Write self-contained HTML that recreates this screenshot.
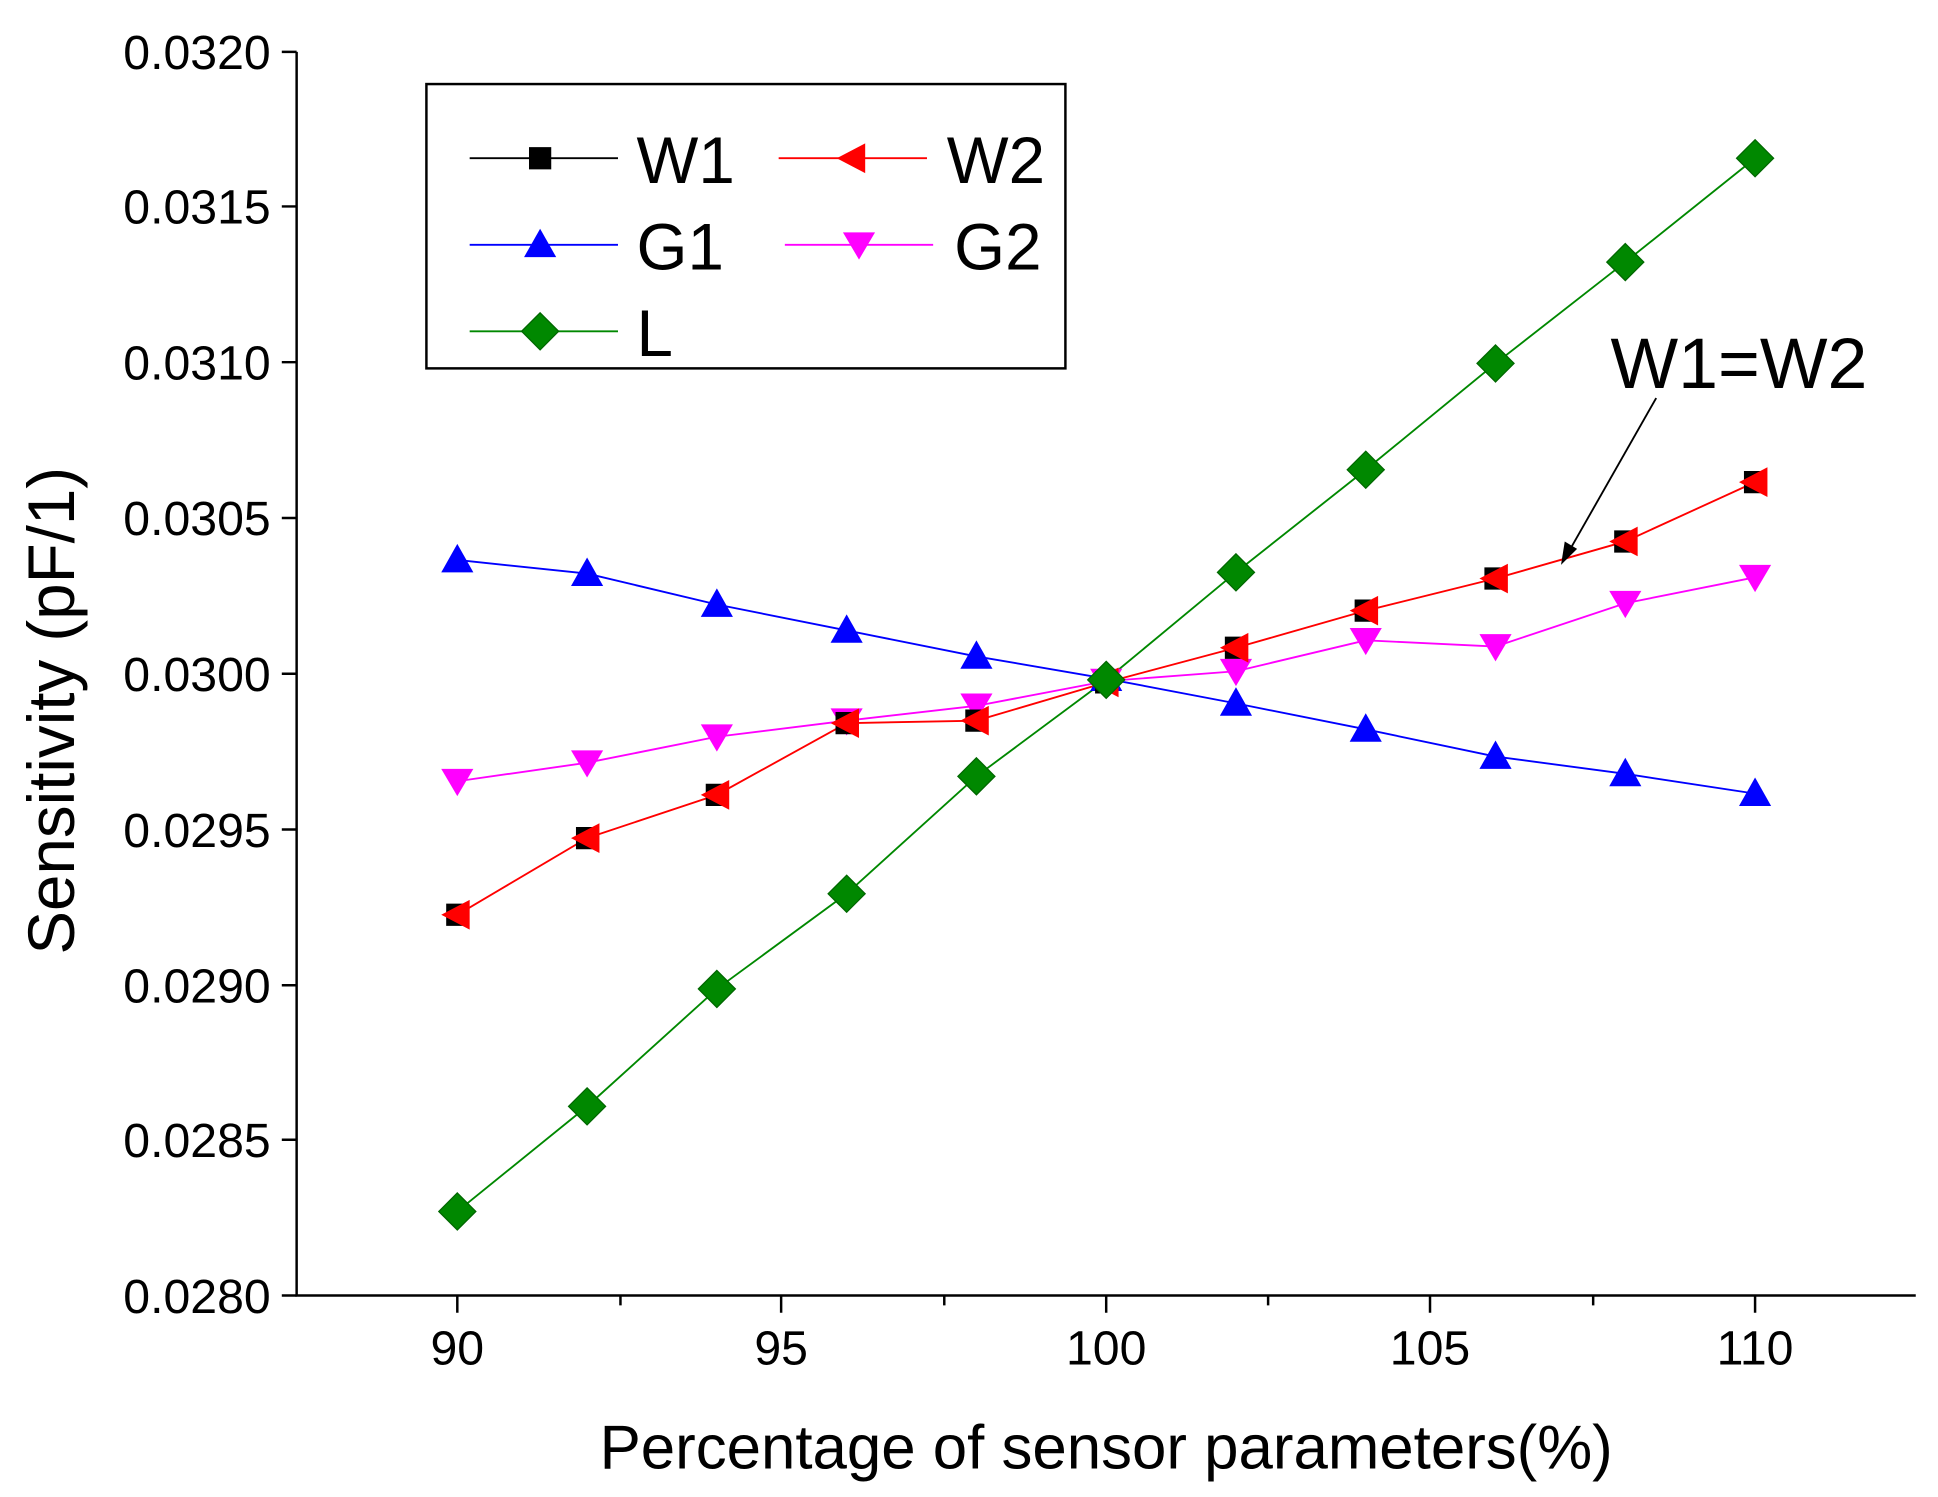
<!DOCTYPE html>
<html><head><style>body{margin:0;background:#fff}svg{display:block}</style></head><body>
<svg width="1938" height="1497" viewBox="0 0 1568 1211" preserveAspectRatio="none" font-family="Liberation Sans, Arial, sans-serif">
<rect width="1568" height="1211" fill="#fff"/>
<g stroke="#000" stroke-width="2" fill="none">
<path d="M240 42 V1048 H1550"/>
<path d="M228 42H240M228 167H240M228 293H240M228 419H240M228 545H240M228 671H240M228 797H240M228 922H240M228 1048H240"/>
<path d="M370 1048v14M632 1048v14M895 1048v14M1157 1048v14M1420 1048v14M502 1048v8M764 1048v8M1026 1048v8M1289 1048v8"/>
</g>
<g font-size="39" text-anchor="end" fill="#000">
<text x="219" y="56">0.0320</text><text x="219" y="181">0.0315</text><text x="219" y="307">0.0310</text><text x="219" y="433">0.0305</text><text x="219" y="559">0.0300</text><text x="219" y="685">0.0295</text><text x="219" y="811">0.0290</text><text x="219" y="936">0.0285</text><text x="219" y="1062">0.0280</text>
</g>
<g font-size="39" text-anchor="middle" fill="#000">
<text x="370" y="1104">90</text><text x="632" y="1104">95</text><text x="895" y="1104">100</text><text x="1157" y="1104">105</text><text x="1420" y="1104">110</text>
</g>
<text x="895" y="1188" font-size="50" text-anchor="middle">Percentage of sensor parameters(%)</text>
<text transform="translate(60 575) rotate(-90)" font-size="53" text-anchor="middle">Sensitivity (pF/1)</text>
<defs>
<path id="sq" d="M-9 -9H9V9H-9Z" fill="#000"/>
<path id="lt" d="M-13 0L10 -12V12Z" fill="#f00"/>
<path id="ut" d="M0 -13L13 10H-13Z" fill="#00f"/>
<path id="dt" d="M0 12L13 -10H-13Z" fill="#f0f"/>
<path id="dm" d="M0 -15L15 0L0 15L-15 0Z" fill="#080" stroke="#060" stroke-width="1"/>
</defs>
<polyline fill="none" stroke="#00f" stroke-width="1.5" points="370,453 475,464 580,489 685,510 790,531 895,549 1000,569 1105,590 1210,612 1315,626 1420,642"/>
<polyline fill="none" stroke="#f0f" stroke-width="1.5" points="370,632 475,617 580,596 685,583 790,571 895,551 1000,543 1105,518 1210,523 1315,488 1420,467"/>
<polyline fill="none" stroke="#f00" stroke-width="1.5" points="370,740 475,678 580,643 685,585 790,583 895,552 1000,524 1105,494 1210,468 1315,438 1420,390"/>
<polyline fill="none" stroke="#080" stroke-width="1.5" points="370,980 475,895 580,800 685,723 790,628 895,550 1000,463 1105,380 1210,294 1315,212 1420,128"/>
<g>
<use href="#ut" x="370" y="453"/><use href="#ut" x="475" y="464"/><use href="#ut" x="580" y="489"/><use href="#ut" x="685" y="510"/><use href="#ut" x="790" y="531"/><use href="#ut" x="895" y="549"/><use href="#ut" x="1000" y="569"/><use href="#ut" x="1105" y="590"/><use href="#ut" x="1210" y="612"/><use href="#ut" x="1315" y="626"/><use href="#ut" x="1420" y="642"/>
<use href="#dt" x="370" y="632"/><use href="#dt" x="475" y="617"/><use href="#dt" x="580" y="596"/><use href="#dt" x="685" y="583"/><use href="#dt" x="790" y="571"/><use href="#dt" x="895" y="551"/><use href="#dt" x="1000" y="543"/><use href="#dt" x="1105" y="518"/><use href="#dt" x="1210" y="523"/><use href="#dt" x="1315" y="488"/><use href="#dt" x="1420" y="467"/>
<use href="#sq" x="370" y="740"/><use href="#sq" x="475" y="678"/><use href="#sq" x="580" y="643"/><use href="#sq" x="685" y="585"/><use href="#sq" x="790" y="583"/><use href="#sq" x="895" y="552"/><use href="#sq" x="1000" y="524"/><use href="#sq" x="1105" y="494"/><use href="#sq" x="1210" y="468"/><use href="#sq" x="1315" y="438"/><use href="#sq" x="1420" y="390"/>
<use href="#lt" x="370" y="740"/><use href="#lt" x="475" y="678"/><use href="#lt" x="580" y="643"/><use href="#lt" x="685" y="585"/><use href="#lt" x="790" y="583"/><use href="#lt" x="895" y="552"/><use href="#lt" x="1000" y="524"/><use href="#lt" x="1105" y="494"/><use href="#lt" x="1210" y="468"/><use href="#lt" x="1315" y="438"/><use href="#lt" x="1420" y="390"/>
<use href="#dm" x="370" y="980"/><use href="#dm" x="475" y="895"/><use href="#dm" x="580" y="800"/><use href="#dm" x="685" y="723"/><use href="#dm" x="790" y="628"/><use href="#dm" x="895" y="550"/><use href="#dm" x="1000" y="463"/><use href="#dm" x="1105" y="380"/><use href="#dm" x="1210" y="294"/><use href="#dm" x="1315" y="212"/><use href="#dm" x="1420" y="128"/>
</g>
<rect x="345" y="68" width="517" height="230" fill="#fff" stroke="#000" stroke-width="2"/>
<g stroke-width="1.5">
<line x1="380" y1="128" x2="500" y2="128" stroke="#000"/><use href="#sq" x="437" y="128"/>
<line x1="630" y1="128" x2="750" y2="128" stroke="#f00"/><use href="#lt" x="690" y="128"/>
<line x1="380" y1="198" x2="500" y2="198" stroke="#00f"/><use href="#ut" x="437" y="198"/>
<line x1="635" y1="198" x2="755" y2="198" stroke="#f0f"/><use href="#dt" x="695" y="198"/>
<line x1="380" y1="268" x2="500" y2="268" stroke="#080"/><use href="#dm" x="437" y="268"/>
</g>
<g font-size="53" fill="#000">
<text x="515" y="148">W1</text><text x="766" y="148">W2</text>
<text x="515" y="218">G1</text><text x="772" y="218">G2</text>
<text x="515" y="288">L</text>
<text x="1303" y="314" font-size="58">W1=W2</text>
</g>
<line x1="1340" y1="322" x2="1270" y2="445" stroke="#000" stroke-width="1.5"/>
<path d="M1263 457L1266 438L1276 444Z" fill="#000"/>
</svg>
</body></html>
